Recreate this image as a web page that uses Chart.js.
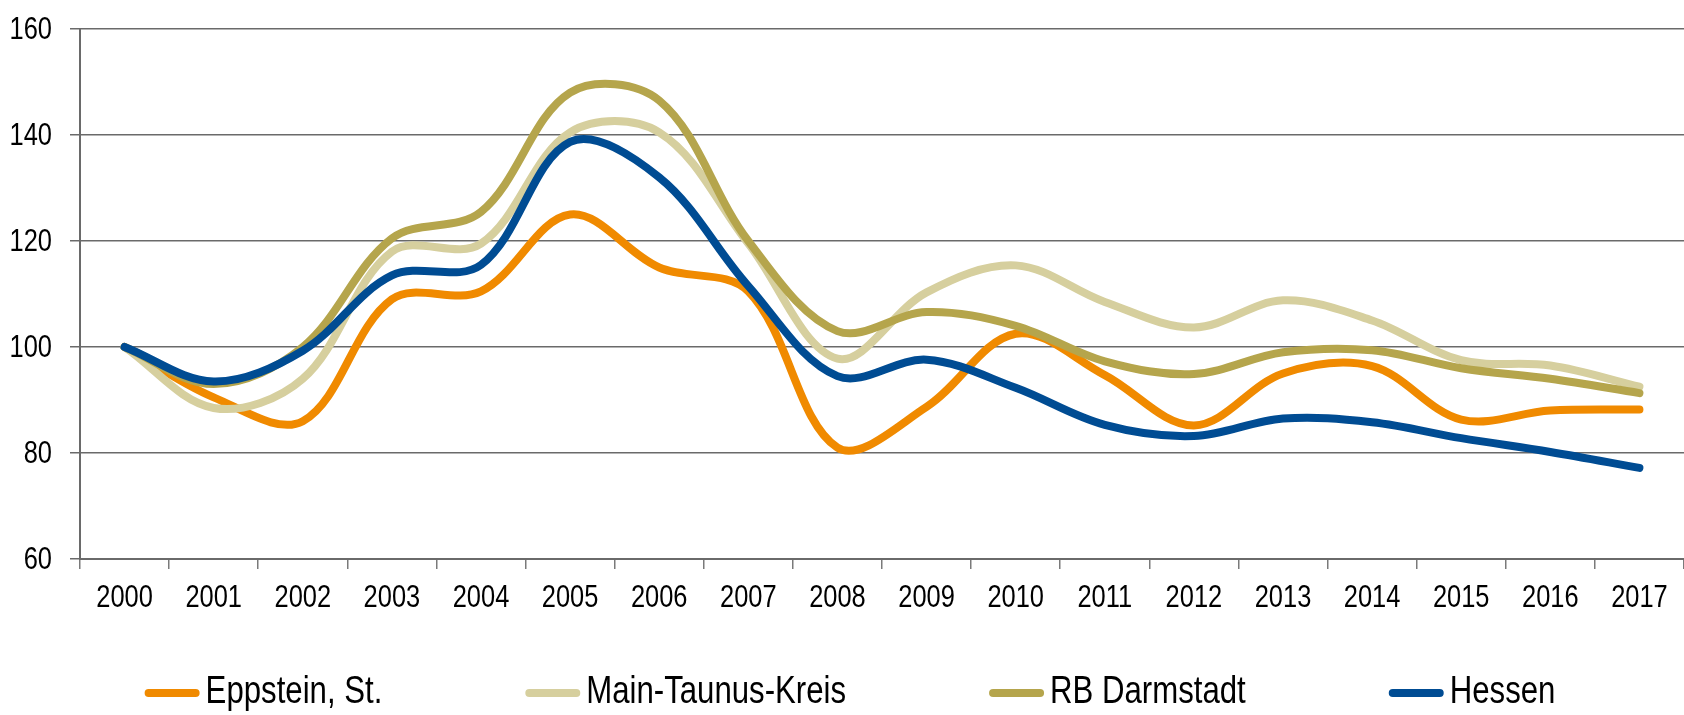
<!DOCTYPE html>
<html>
<head>
<meta charset="utf-8">
<title>Bevölkerungsentwicklung</title>
<script src="https://cdn.jsdelivr.net/npm/chart.js@4/dist/chart.umd.min.js"></script>
<style>
  body { margin: 0; background: #fff; }
  canvas { display: block; }
</style>
</head>
<body>
<canvas id="myChart" width="1684" height="715"></canvas>
<script>
// index values, 2000 = 100
const years = ['2000', '2001', '2002', '2003', '2004', '2005', '2006', '2007', '2008',
               '2009', '2010', '2011', '2012', '2013', '2014', '2015', '2016', '2017'];
const eppstein   = [100, 90.5, 86, 109, 110.5, 125, 115, 110.5, 81, 88.7, 102.5, 94.7, 85.2, 95, 96.4, 86.3, 88, 88.2];
const mainTaunus = [100, 88.5, 94, 118, 119.5, 140.5, 140.5, 119.5, 97.8, 110.3, 115.4, 108.5, 103.7, 108.8, 105, 97.5, 96.5, 92.5];
const rbDarmstadt = [100, 93, 100, 120.5, 125.5, 148, 146.5, 120, 103, 106.6, 104, 97.3, 94.9, 99, 99.4, 96, 94, 91.3];
const hessen     = [100, 93.5, 99.3, 113.5, 115.5, 138.7, 132, 111.5, 94.5, 97.6, 92.3, 85.3, 83.2, 86.5, 85.8, 82.8, 80.2, 77.2];

const seriesNames = ['Eppstein, St.', 'Main-Taunus-Kreis', 'RB Darmstadt', 'Hessen'];
const yTicks = [60, 80, 100, 120, 140, 160];

const fontFamily = "'Liberation Sans', Arial, sans-serif";
const narrow = 0.82;   // no condensed face installed, so squeeze text horizontally

function line(label, data, color, order) {
    return {
        label: label,
        data: data,
        borderColor: color,
        backgroundColor: color,
        borderWidth: 8,
        borderCapStyle: 'round',
        borderJoinStyle: 'round',
        tension: 0.35,
        pointRadius: 0,
        pointHoverRadius: 0,
        fill: false,
        order: order
    };
}

function narrowText(c, text, x, y, align) {
    c.save();
    c.translate(x, y);
    c.scale(narrow, 1);
    c.textAlign = align;
    c.textBaseline = 'middle';
    c.fillText(text, 0, 0);
    c.restore();
}

// axis labels and the legend row, drawn with condensed text
const axisText = {
    id: 'axisText',
    afterDraw(chart) {
        const c = chart.ctx;
        const xs = chart.scales.x, ys = chart.scales.y;
        c.save();
        c.fillStyle = '#000';
        c.font = '31px ' + fontFamily;
        ys.ticks.forEach(t => {
            narrowText(c, String(t.value), 52, ys.getPixelForValue(t.value) + 1, 'right');
        });
        xs.ticks.forEach((t, i) => {
            narrowText(c, xs.getLabelForValue(t.value), xs.getPixelForTick(i), 598, 'center');
        });

        // legend: short thick line + series name
        const lineLen = 55, gap = 6, spacing = 143, y = 693;
        c.font = '38px ' + fontFamily;
        const items = chart.data.datasets.map(ds => ({
            ds: ds,
            w: c.measureText(ds.label).width * narrow
        }));
        let total = 0;
        items.forEach((it, i) => {
            total += lineLen + gap + it.w + (i < items.length - 1 ? spacing : 0);
        });
        let x = 850 - total / 2;
        items.forEach(it => {
            c.strokeStyle = it.ds.borderColor;
            c.lineWidth = 8;
            c.lineCap = 'round';
            c.beginPath();
            c.moveTo(x + 4, y);
            c.lineTo(x + lineLen - 4, y);
            c.stroke();
            c.fillStyle = '#000';
            narrowText(c, it.ds.label, x + lineLen + gap, y, 'left');
            x += lineLen + gap + it.w + spacing;
        });
        c.restore();
    }
};

const ctx = document.getElementById('myChart').getContext('2d');
const myChart = new Chart(ctx, {
    type: 'line',
    data: {
        labels: years,
        datasets: [
            line(seriesNames[0], eppstein, 'rgb(240, 138, 0)', 4),
            line(seriesNames[1], mainTaunus, 'rgb(214, 207, 158)', 3),
            line(seriesNames[2], rbDarmstadt, 'rgb(181, 165, 76)', 2),
            line(seriesNames[3], hessen, 'rgb(0, 76, 147)', 1)
        ]
    },
    options: {
        responsive: false,
        animation: false,
        layout: {
            padding: { top: 29, right: 0, left: 0, bottom: 0 }
        },
        plugins: {
            legend: { display: false },
            tooltip: { enabled: false }
        },
        scales: {
            x: {
                offset: true,
                grid: {
                    offset: true,
                    drawOnChartArea: false,
                    drawTicks: true,
                    tickLength: 10,
                    color: '#7a7a7a',
                    lineWidth: 1.5
                },
                border: { color: '#6a6a6a', width: 2 },
                ticks: { display: false, autoSkip: false },
                afterFit(scale) {
                    scale.height = 156;
                }
            },
            y: {
                min: 60,
                max: 160,
                afterBuildTicks(scale) {
                    scale.ticks = yTicks.map(v => ({ value: v }));
                },
                grid: {
                    color: '#6a6a6a',
                    lineWidth: 1.5,
                    tickLength: 10
                },
                border: { color: '#6a6a6a', width: 2 },
                ticks: { display: false },
                afterFit(scale) {
                    scale.width = 80;
                }
            }
        }
    },
    plugins: [axisText]
});
</script>
</body>
</html>
